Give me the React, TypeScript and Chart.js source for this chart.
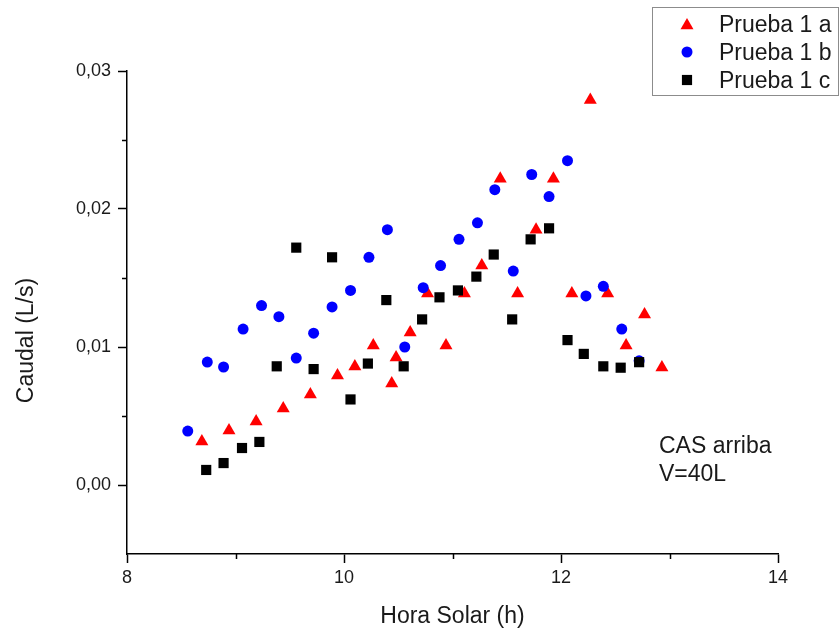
import React, { useEffect, useRef } from 'react';
import { Chart, registerables } from 'chart.js';

Chart.register(...registerables);

// ---- Data ----
const seriesLabels = ['Prueba 1 a', 'Prueba 1 b', 'Prueba 1 c'];

const horaA = [8.69, 8.94, 9.19, 9.44, 9.69, 9.94, 10.10, 10.27, 10.44, 10.48, 10.61, 10.77, 10.94, 11.11, 11.27, 11.44, 11.60, 11.77, 11.93, 12.10, 12.27, 12.43, 12.60, 12.77, 12.93];
const caudalA = [0.00315, 0.00395, 0.0046, 0.00554, 0.00656, 0.00793, 0.00859, 0.0101, 0.00736, 0.00924, 0.01105, 0.01388, 0.0101, 0.01388, 0.0159, 0.0222, 0.01388, 0.0185, 0.0222, 0.01388, 0.0279, 0.01388, 0.0101, 0.01236, 0.00851];

const horaB = [8.56, 8.74, 8.89, 9.07, 9.24, 9.40, 9.56, 9.72, 9.89, 10.06, 10.23, 10.40, 10.56, 10.73, 10.89, 11.06, 11.23, 11.39, 11.56, 11.73, 11.89, 12.06, 12.23, 12.39, 12.56, 12.72];
const caudalB = [0.00391, 0.00891, 0.00855, 0.0113, 0.0130, 0.0122, 0.0092, 0.0110, 0.0129, 0.0141, 0.0165, 0.0185, 0.0100, 0.0143, 0.0159, 0.0178, 0.0190, 0.0214, 0.0155, 0.0225, 0.0209, 0.0235, 0.0137, 0.0144, 0.0113, 0.0090];

const horaC = [8.73, 8.89, 9.06, 9.22, 9.38, 9.56, 9.72, 9.89, 10.06, 10.22, 10.39, 10.55, 10.72, 10.88, 11.05, 11.22, 11.38, 11.55, 11.72, 11.89, 12.06, 12.21, 12.39, 12.55, 12.72];
const caudalC = [0.00109, 0.00159, 0.00268, 0.00312, 0.0086, 0.0172, 0.0084, 0.0165, 0.0062, 0.0088, 0.0134, 0.0086, 0.0120, 0.0136, 0.0141, 0.0151, 0.0167, 0.0120, 0.0178, 0.0186, 0.0105, 0.0095, 0.0086, 0.0085, 0.0089];

const xMajorTicks = [8, 10, 12, 14];
const xMinorTicks = [9, 11, 13];
const yMajorTicks = [0, 0.01, 0.02, 0.03];
const yMinorTicks = [0.005, 0.015, 0.025];

const xTitle = 'Hora Solar (h)';
const yTitle = 'Caudal (L/s)';
const noteLines = ['CAS arriba', 'V=40L'];

const FONT = "'Liberation Sans', Arial, sans-serif";
const TEXT = '#1a1a1a';

const toPoints = (xs: number[], ys: number[]) => xs.map((x, i) => ({ x, y: ys[i] }));

function drawMarker(ctx: CanvasRenderingContext2D, style: string, x: number, y: number, r: number, color: string) {
  ctx.save();
  ctx.fillStyle = color;
  ctx.beginPath();
  if (style === 'triangle') {
    for (let k = 0; k < 3; k++) {
      const a = (k * 2 * Math.PI) / 3;
      const px = x + Math.sin(a) * r;
      const py = y - Math.cos(a) * r;
      if (k === 0) ctx.moveTo(px, py);
      else ctx.lineTo(px, py);
    }
    ctx.closePath();
  } else if (style === 'rect') {
    const s = r * Math.SQRT1_2;
    ctx.rect(x - s, y - s, 2 * s, 2 * s);
  } else {
    ctx.arc(x, y, r, 0, Math.PI * 2);
  }
  ctx.fill();
  ctx.restore();
}

const decorPlugin = {
  id: 'decor',
  afterDraw(chart: any) {
    const ctx: CanvasRenderingContext2D = chart.ctx;
    const xs = chart.scales.x;
    const ys = chart.scales.y;
    const area = chart.chartArea;
    ctx.save();
    // minor ticks
    ctx.strokeStyle = '#000';
    ctx.lineWidth = 1.5;
    ctx.beginPath();
    xMinorTicks.forEach((v) => {
      const px = Math.round(xs.getPixelForValue(v)) + 0.5;
      ctx.moveTo(px, area.bottom);
      ctx.lineTo(px, area.bottom + 5);
    });
    yMinorTicks.forEach((v) => {
      const py = Math.round(ys.getPixelForValue(v)) + 0.5;
      ctx.moveTo(area.left, py);
      ctx.lineTo(area.left - 5, py);
    });
    ctx.stroke();

    // axis titles
    ctx.fillStyle = TEXT;
    ctx.font = `23px ${FONT}`;
    ctx.textAlign = 'center';
    ctx.textBaseline = 'alphabetic';
    ctx.fillText(xTitle, (area.left + area.right) / 2, 622.5);
    ctx.save();
    ctx.translate(33, 340.5);
    ctx.rotate(-Math.PI / 2);
    ctx.fillText(yTitle, 0, 0);
    ctx.restore();

    // note text
    ctx.textAlign = 'left';
    noteLines.forEach((line, i) => {
      ctx.fillText(line, 659, 453 + i * 28);
    });

    // legend
    ctx.strokeStyle = '#8c8c8c';
    ctx.lineWidth = 1;
    ctx.strokeRect(652.5, 7.5, 186, 88);
    chart.data.datasets.forEach((ds: any, i: number) => {
      const cy = 24 + i * 28;
      const dy = ds.pointStyle === 'triangle' ? 1.5 : 0;
      drawMarker(ctx, ds.pointStyle, 687, cy + dy, ds.pointRadius, ds.backgroundColor);
      ctx.fillStyle = TEXT;
      ctx.fillText(ds.label, 719, 31.5 + i * 28);
    });
    ctx.restore();
  },
};

export default function App() {
  const ref = useRef<HTMLCanvasElement | null>(null);

  useEffect(() => {
    if (!ref.current) return;
    const chart = new Chart(ref.current, {
      type: 'scatter',
      data: {
        datasets: [
          {
            label: seriesLabels[0],
            data: toPoints(horaA, caudalA),
            pointStyle: 'triangle',
            pointRadius: 7.5,
            backgroundColor: '#ff0000',
            borderColor: '#ff0000',
            borderWidth: 0,
            order: 2,
          },
          {
            label: seriesLabels[1],
            data: toPoints(horaB, caudalB),
            pointStyle: 'circle',
            pointRadius: 5.5,
            backgroundColor: '#0000ff',
            borderColor: '#0000ff',
            borderWidth: 0,
            order: 1,
          },
          {
            label: seriesLabels[2],
            data: toPoints(horaC, caudalC),
            pointStyle: 'rect',
            pointRadius: 7.2,
            backgroundColor: '#000000',
            borderColor: '#000000',
            borderWidth: 0,
            order: 0,
          },
        ],
      },
      options: {
        animation: false,
        responsive: false,
        devicePixelRatio: 1,
        layout: { padding: { top: 71, right: 61, left: 0, bottom: 0 } },
        plugins: {
          legend: { display: false },
          tooltip: { enabled: false },
        },
        scales: {
          x: {
            type: 'linear',
            position: 'bottom',
            min: 8,
            max: 14,
            afterBuildTicks: (s: any) => {
              s.ticks = xMajorTicks.map((value) => ({ value }));
            },
            afterFit: (s: any) => {
              s.height = 76;
            },
            ticks: {
              font: { family: FONT, size: 18 },
              color: TEXT,
              padding: 4,
              maxRotation: 0,
              callback: (v: any) => String(v),
            },
            grid: {
              drawOnChartArea: false,
              drawTicks: true,
              tickLength: 9,
              tickWidth: 1.5,
              tickColor: '#000',
            },
            border: { display: true, color: '#000', width: 1.5 },
          },
          y: {
            type: 'linear',
            min: -0.005,
            max: 0.03,
            afterBuildTicks: (s: any) => {
              s.ticks = yMajorTicks.map((value) => ({ value }));
            },
            afterFit: (s: any) => {
              s.width = 127;
            },
            ticks: {
              font: { family: FONT, size: 18 },
              color: TEXT,
              padding: 7,
              callback: (v: any) => Number(v).toFixed(2).replace('.', ','),
            },
            grid: {
              drawOnChartArea: false,
              drawTicks: true,
              tickLength: 9,
              tickWidth: 1.5,
              tickColor: '#000',
            },
            border: { display: true, color: '#000', width: 1.5 },
          },
        },
      } as any,
      plugins: [decorPlugin],
    });
    return () => chart.destroy();
  }, []);

  return (
    <div style={{ position: 'absolute', left: 0, top: 0, width: 839, height: 630, background: '#fff' }}>
      <canvas ref={ref} width={839} height={630} style={{ display: 'block', width: 839, height: 630 }} />
    </div>
  );
}
